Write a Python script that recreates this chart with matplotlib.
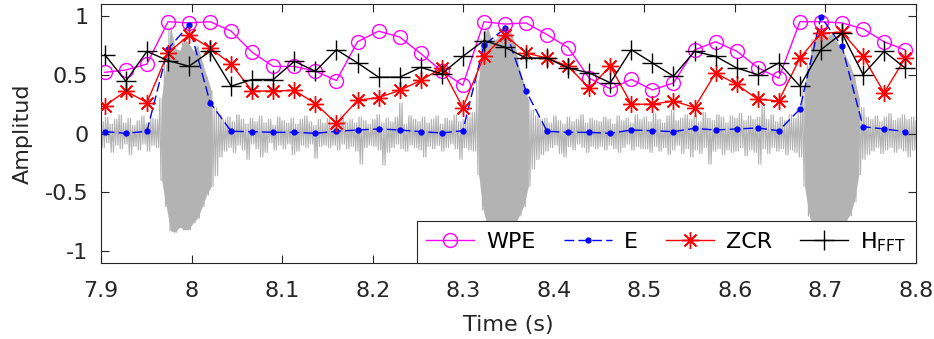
import numpy as np
import matplotlib
matplotlib.use("Agg")
import matplotlib.pyplot as plt

# feature frames (one value per analysis window)
frame_start = 7.9042
frame_hop = 0.02326

wpe = [0.52, 0.54, 0.59, 0.95, 0.94, 0.95, 0.87, 0.69, 0.57, 0.57,
       0.53, 0.45, 0.78, 0.87, 0.82, 0.68, 0.53, 0.41, 0.95, 0.93,
       0.94, 0.84, 0.73, 0.47, 0.38, 0.46, 0.37, 0.43, 0.71, 0.78,
       0.70, 0.56, 0.47, 0.95, 0.95, 0.94, 0.89, 0.78, 0.71]
energy = [0.016, 0.002, 0.019, 0.72, 0.92, 0.263, 0.019, 0.016, 0.01, 0.01,
          0.002, 0.019, 0.030, 0.039, 0.030, 0.016, 0.005, 0.024, 0.75, 0.894,
          0.361, 0.019, 0.010, 0.010, 0.002, 0.030, 0.024, 0.016, 0.044, 0.030,
          0.039, 0.047, 0.024, 0.207, 0.992, 0.740, 0.058, 0.039, 0.016]
zcr = [0.235, 0.361, 0.263, 0.684, 0.838, 0.726, 0.59, 0.361, 0.361, 0.367,
       0.254, 0.086, 0.283, 0.305, 0.367, 0.451, 0.557, 0.221, 0.656, 0.838,
       0.684, 0.641, 0.572, 0.384, 0.572, 0.249, 0.249, 0.277, 0.221, 0.515,
       0.417, 0.291, 0.277, 0.641, 0.852, 0.860, 0.656, 0.347, 0.641]
h_fft = [0.670, 0.445, 0.698, 0.62, 0.572, 0.698, 0.403, 0.459, 0.459, 0.614,
         0.529, 0.712, 0.600, 0.479, 0.479, 0.563, 0.507, 0.656, 0.79, 0.733,
         0.641, 0.641, 0.557, 0.515, 0.431, 0.712, 0.600, 0.487, 0.698, 0.656,
         0.557, 0.501, 0.600, 0.403, 0.712, 0.852, 0.501, 0.698, 0.557]

# audio waveform: positive / negative peaks read every 5 ms from 7.900 s
wave_step = 0.005
wave_hi = [0.10, 0.14, 0.08, 0.12, 0.16, 0.09, 0.13, 0.07, 0.11, 0.15,
           0.09, 0.13, 0.12, 0.30, 0.58, 0.90, 0.72, 0.70, 0.80, 0.76,
           0.70, 0.74, 0.60, 0.48, 0.36, 0.22, 0.16, 0.12, 0.14, 0.10,
           0.16, 0.12, 0.08, 0.13, 0.10, 0.15, 0.09, 0.12, 0.07, 0.14,
           0.11, 0.09, 0.13, 0.08, 0.12, 0.15, 0.10, 0.07, 0.12, 0.09,
           0.13, 0.08, 0.11, 0.16, 0.10, 0.12, 0.09, 0.14, 0.11, 0.08,
           0.12, 0.16, 0.09, 0.13, 0.10, 0.14, 0.26, 0.08, 0.15, 0.12,
           0.10, 0.14, 0.09, 0.12, 0.15, 0.08, 0.13, 0.11, 0.16, 0.10,
           0.12, 0.14,
           0.18, 0.45, 0.80, 0.90, 0.78, 0.80, 0.84, 0.82, 0.87, 0.76,
           0.55, 0.42, 0.28, 0.20, 0.15, 0.12,
           0.13, 0.09, 0.15, 0.11, 0.08, 0.14, 0.10, 0.12, 0.16, 0.09,
           0.13, 0.11,
           0.10, 0.14, 0.12, 0.08, 0.15, 0.11, 0.13, 0.09, 0.16, 0.12,
           0.14, 0.10, 0.17, 0.12, 0.09, 0.15, 0.20, 0.11, 0.13, 0.16,
           0.12, 0.15, 0.10, 0.18, 0.13, 0.11, 0.16, 0.14, 0.09, 0.15,
           0.13, 0.17, 0.11, 0.15, 0.12, 0.14, 0.24, 0.12, 0.16, 0.10,
           0.14, 0.11, 0.16, 0.13,
           0.18, 0.40, 0.60, 0.80, 0.86, 0.88, 0.82, 0.84, 0.78, 0.74,
           0.66, 0.58, 0.48, 0.30, 0.22, 0.14,
           0.12, 0.15, 0.10, 0.14, 0.17, 0.11, 0.13, 0.16, 0.12, 0.14,
           0.11]
wave_lo = [-0.12, -0.08, -0.16, -0.10, -0.13, -0.09, -0.18, -0.11, -0.14, -0.09,
           -0.15, -0.10, -0.12, -0.40, -0.62, -0.83, -0.84, -0.80, -0.82, -0.82,
           -0.76, -0.72, -0.62, -0.52, -0.45, -0.36, -0.20, -0.15, -0.12, -0.16,
           -0.10, -0.14, -0.22, -0.09, -0.13, -0.20, -0.16, -0.08, -0.14, -0.10,
           -0.13, -0.09, -0.18, -0.15, -0.10, -0.12, -0.09, -0.21, -0.11, -0.10,
           -0.12, -0.10, -0.14, -0.09, -0.13, -0.11, -0.15, -0.26, -0.12, -0.10,
           -0.11, -0.14, -0.27, -0.16, -0.12, -0.09, -0.13, -0.15, -0.10, -0.12,
           -0.14, -0.20, -0.11, -0.13, -0.10, -0.15, -0.12, -0.09, -0.13, -0.22,
           -0.12, -0.14,
           -0.15, -0.35, -0.65, -0.80, -0.85, -0.86, -0.85, -0.84, -0.82, -0.78,
           -0.70, -0.62, -0.45, -0.30, -0.22, -0.18,
           -0.15, -0.12, -0.10, -0.17, -0.20, -0.11, -0.14, -0.09, -0.12, -0.16,
           -0.11, -0.13,
           -0.11, -0.14, -0.10, -0.13, -0.16, -0.12, -0.09, -0.14, -0.11, -0.13,
           -0.13, -0.16, -0.11, -0.15, -0.12, -0.18, -0.14, -0.10, -0.17, -0.13,
           -0.20, -0.14, -0.17, -0.12, -0.26, -0.15, -0.13, -0.18, -0.14, -0.16,
           -0.15, -0.12, -0.19, -0.14, -0.16, -0.26, -0.13, -0.17, -0.12, -0.15,
           -0.13, -0.18, -0.14, -0.16,
           -0.20, -0.45, -0.70, -0.82, -0.85, -0.86, -0.85, -0.84, -0.82, -0.80,
           -0.75, -0.70, -0.58, -0.35, -0.22, -0.18,
           -0.15, -0.12, -0.17, -0.14, -0.12, -0.16, -0.13, -0.15, -0.20, -0.14,
           -0.13]

x_ticks = [7.9, 8.0, 8.1, 8.2, 8.3, 8.4, 8.5, 8.6, 8.7, 8.8]
x_ticklabels = ["7.9", "8", "8.1", "8.2", "8.3", "8.4", "8.5", "8.6", "8.7", "8.8"]
y_ticks = [-1, -0.5, 0, 0.5, 1]
y_ticklabels = ["-1", "-0.5", "0", "0.5", "1"]

plt.rcParams['font.family'] = ['DejaVu Sans']
plt.rcParams['mathtext.fontset'] = 'dejavusans'

t_frames = frame_start + frame_hop * np.arange(len(wpe))

# each 5 ms cell swings between its peak and trough twice
t_wave = 7.9 + wave_step * np.arange(len(wave_hi))
sub = np.array([0, 0.25, 0.5, 0.75]) * wave_step
wx = (t_wave[:, None] + sub[None, :]).ravel()
wy = np.column_stack([wave_hi, wave_lo, wave_hi, wave_lo]).ravel()
loud = np.array(wave_hi) > 0.25

fig = plt.figure(figsize=(9.34, 3.39), dpi=100)
ax = fig.add_axes([0.1081, 0.2242, 0.8726, 0.7638])

dark = '#262626'
gray = '#b3b3b3'
ax.plot(wx, wy, color=gray, lw=0.8, zorder=1)
# vowel bursts look solid grey in the recording
ax.fill_between(t_wave + wave_step / 2, wave_lo, wave_hi, where=loud,
                color=gray, lw=0, zorder=1)
ax.plot(t_frames, wpe, color='magenta', lw=1.0, marker='o', ms=10,
        mfc='none', mew=1.0, label='WPE', zorder=2)
ax.plot(t_frames, energy, color='blue', lw=1.0, ls=(0, (7, 3)), marker='o',
        ms=3.5, label='E', zorder=3)
ax.plot(t_frames, zcr, color='red', lw=1.0, marker=(8, 2, 0), ms=12,
        mew=1.0, label='ZCR', zorder=4)
ax.plot(t_frames, h_fft, color='black', lw=1.0, marker='+', ms=14,
        mew=1.0, label=r'H$_{\mathregular{FFT}}$', zorder=5)

ax.set_xlim(7.9, 8.8)
ax.set_ylim(-1.1, 1.1)
ax.set_xticks(x_ticks)
ax.set_xticklabels(x_ticklabels)
ax.set_yticks(y_ticks)
ax.set_yticklabels(y_ticklabels)
ax.tick_params(direction='in', length=6, width=0.8, colors=dark,
               labelsize=16, top=True, right=True)
ax.tick_params(axis='x', pad=13)
ax.tick_params(axis='y', pad=9)
for s in ax.spines.values():
    s.set_color(dark)
    s.set_linewidth(0.8)
ax.set_xlabel('Time (s)', fontsize=16, color=dark, labelpad=10)
ax.set_ylabel('Amplitud', fontsize=16, color=dark, labelpad=9)

leg = ax.legend(loc='lower right', bbox_to_anchor=(1, 0), borderaxespad=0,
                ncol=4, fontsize=16, fancybox=False, framealpha=1,
                edgecolor=dark, handlelength=2.16, handletextpad=0.54,
                columnspacing=1.27, borderpad=0.42)
leg.get_frame().set_linewidth(0.8)
leg.set_zorder(10)

fig.savefig('out.png', dpi=100)
